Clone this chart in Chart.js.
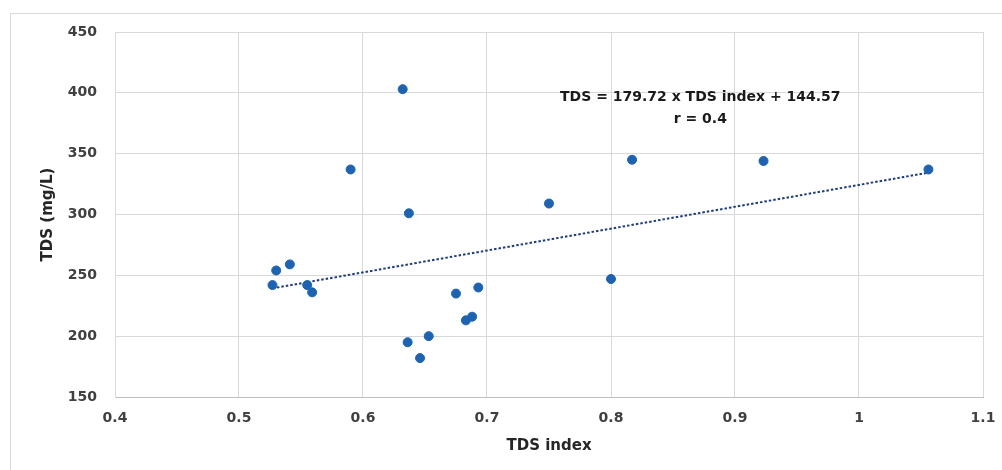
<!DOCTYPE html>
<html>
<head>
<meta charset="utf-8">
<script src="https://cdn.jsdelivr.net/npm/chart.js@4/dist/chart.umd.min.js"></script>
<style>
  html, body { margin: 0; padding: 0; background: #fff; }
  #wrap { position: relative; width: 1002px; height: 470px; overflow: hidden; }
  #frame { position: absolute; left: 10px; top: 13px; width: 1000px; height: 470px; border: 1px solid #d9d9d9; box-sizing: border-box; }
  #chart { position: absolute; left: 0; top: 0; }
</style>
</head>
<body>
<div id="wrap">
  <div id="frame"></div>
  <canvas id="chart" width="1002" height="470"></canvas>
</div>
<script>
// Values
const tdsIndex = [0.632, 0.590, 0.637, 0.817, 0.923, 1.056, 0.750, 0.530, 0.541, 0.527,
                  0.555, 0.559, 0.636, 0.653, 0.646, 0.675, 0.693, 0.683, 0.688, 0.800];
const tdsValues = [403, 337, 301, 345, 344, 337, 309, 254, 259, 242,
                   242, 236, 195, 200, 182, 235, 240, 213, 216, 247];

// Linear trendline ends (TDS = 179.72 x TDS index + 144.57)
const trendX = [0.527, 1.056];
const trendY = [239.3, 334.4];

const xTicks = [0.4, 0.5, 0.6, 0.7, 0.8, 0.9, 1, 1.1];
const yTicks = [150, 200, 250, 300, 350, 400, 450];

const equationText = 'TDS = 179.72 x TDS index + 144.57';
const rText = 'r = 0.4';

const font = 'DejaVu Sans';
const textColor = '#404040';

const points = tdsIndex.map((x, i) => ({ x, y: tdsValues[i] }));
const trend = trendX.map((x, i) => ({ x, y: trendY[i] }));

// Equation label drawn in data coordinates
const equationLabel = {
  id: 'equationLabel',
  afterDatasetsDraw(chart) {
    const { ctx, scales } = chart;
    const cx = scales.x.getPixelForValue(0.872);
    ctx.save();
    ctx.fillStyle = '#1a1a1a';
    ctx.font = `bold 14px "${font}"`;
    ctx.textAlign = 'center';
    ctx.textBaseline = 'middle';
    ctx.fillText(equationText, cx, scales.y.getPixelForValue(396.6));
    ctx.fillText(rText, cx, scales.y.getPixelForValue(378.5));
    ctx.restore();
  }
};

new Chart(document.getElementById('chart'), {
  type: 'scatter',
  data: {
    datasets: [
      {
        label: 'TDS',
        data: points,
        backgroundColor: '#1c63b4',
        borderColor: '#1c63b4',
        pointRadius: 4.5,
        pointHoverRadius: 4.5,
        order: 1
      },
      {
        type: 'line',
        label: 'Trend',
        data: trend,
        borderColor: '#1f3c80',
        borderWidth: 2,
        borderDash: [2.5, 2],
        pointRadius: 0,
        fill: false,
        order: 2
      }
    ]
  },
  options: {
    responsive: false,
    animation: false,
    layout: { padding: { left: 39, top: 32, right: 19, bottom: 15 } },
    plugins: {
      legend: { display: false },
      tooltip: { enabled: false }
    },
    scales: {
      x: {
        type: 'linear',
        min: 0.4,
        max: 1.1,
        afterBuildTicks: (s) => { s.ticks = xTicks.map(v => ({ value: v })); },
        afterFit: (s) => { s.height = 58; s.paddingLeft = 0; s.paddingRight = 0; },
        grid: { color: '#d9d9d9', drawTicks: false },
        border: { color: '#bfbfbf' },
        ticks: {
          padding: 13,
          color: textColor,
          font: { family: font, size: 14, weight: 'bold' },
          callback: (v) => String(v)
        },
        title: {
          display: true,
          text: 'TDS index',
          color: '#262626',
          padding: 0,
          font: { family: font, size: 15, weight: 'bold' }
        }
      },
      y: {
        type: 'linear',
        min: 150,
        max: 450,
        afterBuildTicks: (s) => { s.ticks = yTicks.map(v => ({ value: v })); },
        afterFit: (s) => { s.width = 76; s.paddingTop = 0; s.paddingBottom = 0; },
        grid: { color: '#d9d9d9', drawTicks: false },
        border: { color: '#d9d9d9' },
        ticks: {
          padding: 18,
          color: textColor,
          font: { family: font, size: 14, weight: 'bold' },
          callback: (v) => String(v)
        },
        title: {
          display: true,
          text: 'TDS (mg/L)',
          color: '#262626',
          padding: 0,
          font: { family: font, size: 15, weight: 'bold' }
        }
      }
    }
  },
  plugins: [equationLabel]
});
</script>
</body>
</html>
